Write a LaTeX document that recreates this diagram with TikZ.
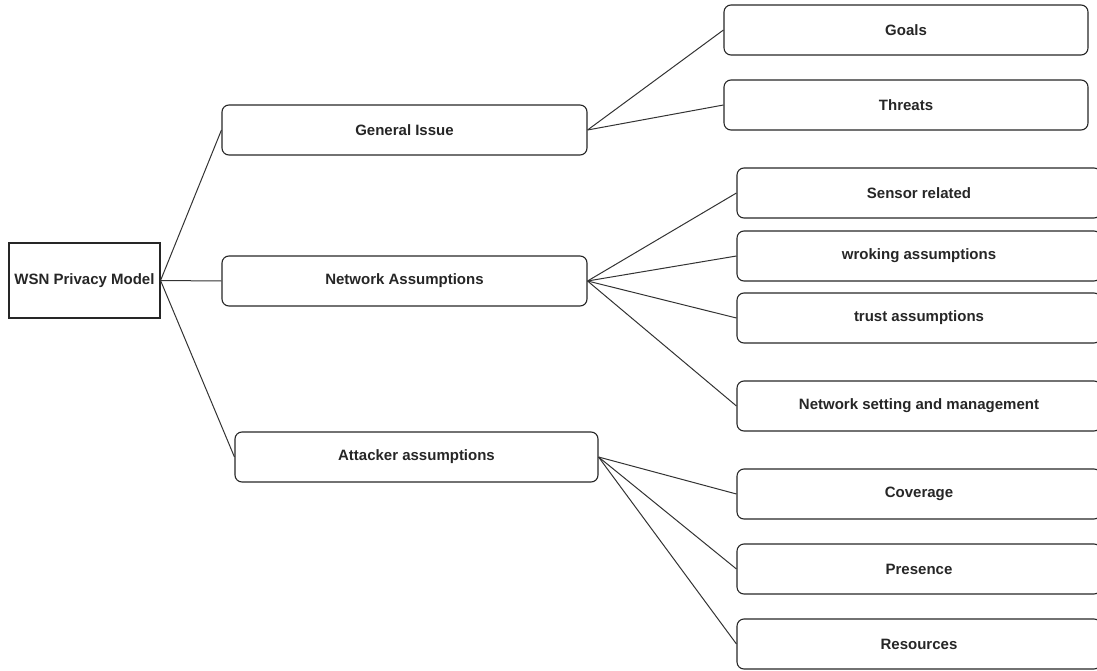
\documentclass[tikz,border=0pt]{standalone}
\usepackage{fontspec}
\setmainfont{Liberation Sans}
\begin{document}
\begin{tikzpicture}[x=1pt,y=-1pt,
  box/.style={draw=black!85, line width=1.1pt, rounded corners=7pt, inner sep=0pt,
    font=\fontsize{15}{17}\selectfont\bfseries, text=black!85},
  rootbox/.style={draw=black!85, line width=1.1pt, inner sep=0pt,
    font=\fontsize{15}{17}\selectfont\bfseries, text=black!85},
  link/.style={draw=black!80, line width=1pt}]
\useasboundingbox (0,0) rectangle (1097,671);
% root
\node[rootbox, minimum width=151pt, minimum height=75pt] (root) at (84.5,280.5) {WSN Privacy Model};
% level 1
\node[box, minimum width=365pt, minimum height=50pt] (gen) at (404.5,130) {General Issue};
\node[box, minimum width=365pt, minimum height=50pt] (net) at (404.5,281) {Network Assumptions};
\node[box, minimum width=363pt, minimum height=50pt] (att) at (416.5,457) {Attacker assumptions};
% level 2
\node[box, minimum width=364pt, minimum height=50pt] (goals) at (906,30) {Goals};
\node[box, minimum width=364pt, minimum height=50pt] (threats) at (906,105) {Threats};
\node[box, minimum width=364pt, minimum height=50pt] (sensor) at (919,193) {Sensor related};
\node[box, minimum width=364pt, minimum height=50pt] (work) at (919,256) {wroking assumptions};
\node[box, minimum width=364pt, minimum height=50pt] (trust) at (919,318) {trust assumptions};
\node[box, minimum width=364pt, minimum height=50pt] (netset) at (919,406) {Network setting and management};
\node[box, minimum width=364pt, minimum height=50pt] (cov) at (919,494) {Coverage};
\node[box, minimum width=364pt, minimum height=50pt] (pres) at (919,569) {Presence};
\node[box, minimum width=364pt, minimum height=50pt] (res) at (919,644) {Resources};
% connectors
\draw[link] (root.east) -- (gen.west);
\draw[link] (root.east) -- (net.west);
\draw[link] (root.east) -- (att.west);
\draw[link] (gen.east) -- (goals.west);
\draw[link] (gen.east) -- (threats.west);
\draw[link] (net.east) -- (sensor.west);
\draw[link] (net.east) -- (work.west);
\draw[link] (net.east) -- (trust.west);
\draw[link] (net.east) -- (netset.west);
\draw[link] (att.east) -- (cov.west);
\draw[link] (att.east) -- (pres.west);
\draw[link] (att.east) -- (res.west);
\end{tikzpicture}
\end{document}
